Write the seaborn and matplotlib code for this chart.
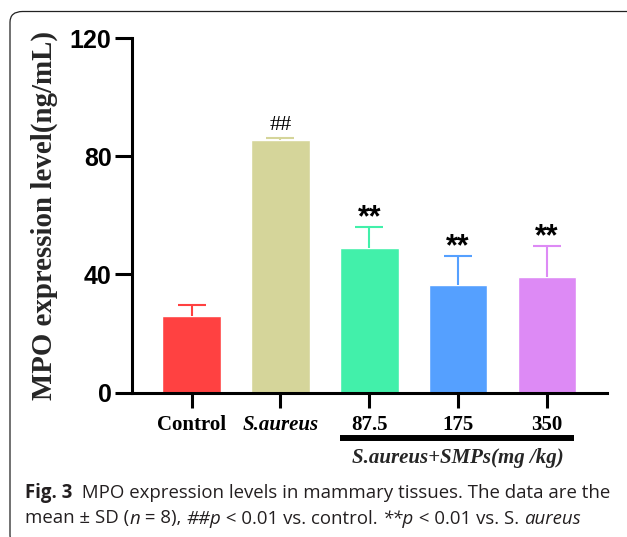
import matplotlib
matplotlib.use("Agg")
import matplotlib.pyplot as plt
import matplotlib.transforms as mtransforms
from matplotlib.patches import FancyBboxPatch
import seaborn as sns
import pandas as pd

# ---- data ----
groups = ["Control", "S.aureus", "87.5", "175", "350"]
means = [26.0, 85.4, 49.0, 36.3, 39.1]
sds = [3.8, 0.9, 7.1, 10.0, 10.6]
marks = ["", "##", "**", "**", "**"]
colors = ["#FF4141", "#D5D59A", "#42F0AA", "#55A0FF", "#DD8AF5"]
yticks = [0, 40, 80, 120]
ylabel = "MPO expression level(ng/mL)"
group_label = "S.aureus+SMPs(mg /kg)"
caption1 = [("Fig. 3", "normal", "bold"),
            ("  MPO expression levels in mammary tissues. The data are the", "normal", "normal")]
caption2 = [("mean ± SD (", "normal", "normal"), ("n", "italic", "normal"),
            (" = 8), ", "normal", "normal"), ("##p", "italic", "normal"),
            (" < 0.01 vs. control. ", "normal", "normal"), ("**p", "italic", "normal"),
            (" < 0.01 vs. S. ", "normal", "normal"), ("aureus", "italic", "normal")]

sns.set_style("ticks")

W, H = 627, 537
fig = plt.figure(figsize=(W / 100, H / 100), dpi=100)

# journal frame (rounded box, open to the right/bottom)
frame = FancyBboxPatch((10 / W, (H - 546) / H), (670 - 10) / W, (546 - 11.5) / H,
                       boxstyle="round,pad=0,rounding_size=0.02",
                       transform=fig.transFigure, fill=False,
                       edgecolor="#222222", linewidth=0.9, clip_on=False)
fig.patches.append(frame)

ax = fig.add_axes([131.7 / W, 1 - 392.7 / H, (607 - 131.7) / W, (392.7 - 38) / H])

df = pd.DataFrame({"group": groups, "value": means})
sns.barplot(data=df, x="group", y="value", hue="group", palette=colors,
            legend=False, width=0.66, errorbar=None, ax=ax, saturation=1)

for i, (m, s, c) in enumerate(zip(means, sds, colors)):
    _, caps, _ = ax.errorbar(i, m, yerr=[[0], [s]], fmt="none", ecolor=c,
                             elinewidth=1.5, capsize=10.4, capthick=1.5, zorder=3)
    caps[0].set_visible(False)

for i, (m, s, t) in enumerate(zip(means, sds, marks)):
    if t == "##":
        ax.text(i, m + s + 2.5, t, ha="center", va="baseline",
                fontfamily="Liberation Serif", fontsize=16, color="black")
    elif t:
        ax.text(i, m + s + 0.3, t, ha="center", va="baseline",
                fontfamily="Liberation Sans", fontweight="bold", fontsize=22,
                color="black")

ax.set_xlim(-0.673, 4.675)
ax.set_ylim(0, 120)
ax.set_yticks(yticks)
ax.set_yticklabels([str(v) for v in yticks], fontfamily="Liberation Sans",
                   fontweight="bold", fontsize=18)
ax.set_xticks(range(len(groups)))
ax.set_xticklabels(groups, fontfamily="Liberation Serif", fontweight="bold",
                   fontsize=15)
ax.get_xticklabels()[1].set_fontstyle("italic")
ax.set_xlabel("")
ax.set_ylabel(ylabel, fontfamily="Liberation Serif", fontweight="bold",
              fontsize=20.8)
ax.yaxis.set_label_coords(-0.155, 0.5)

for sp in ["top", "right"]:
    ax.spines[sp].set_visible(False)
for sp in ["left", "bottom"]:
    ax.spines[sp].set_linewidth(2.2)
    ax.spines[sp].set_color("black")
ax.tick_params(axis="y", length=12.5, width=2.2, pad=2, colors="black")
ax.tick_params(axis="x", length=11, width=2.2, pad=5, colors="black")

# group bracket under dose labels
trans = mtransforms.blended_transform_factory(ax.transData, ax.transAxes)
ax.plot([1.67, 4.3], [-0.127, -0.127], color="black", linewidth=4.3,
        transform=trans, clip_on=False, solid_capstyle="butt")
ax.text(3.0, -0.184, group_label, transform=trans, ha="center", va="center",
        fontfamily="Liberation Serif", fontweight="bold", fontstyle="italic",
        fontsize=15)

# caption, drawn segment by segment
renderer = fig.canvas.get_renderer()


def draw_line(segments, x0, y0, size):
    x = x0
    for txt, style, weight in segments:
        t = fig.text(x / W, 1 - y0 / H, txt, ha="left", va="baseline",
                     fontfamily="Open Sans", fontsize=size, fontstyle=style,
                     fontweight=weight, color="#231F20")
        bb = t.get_window_extent(renderer=renderer)
        x += bb.width


draw_line(caption1, 25, 498, 13.4)
draw_line(caption2, 25, 523.5, 13.4)

fig.savefig("out.png", dpi=100)
